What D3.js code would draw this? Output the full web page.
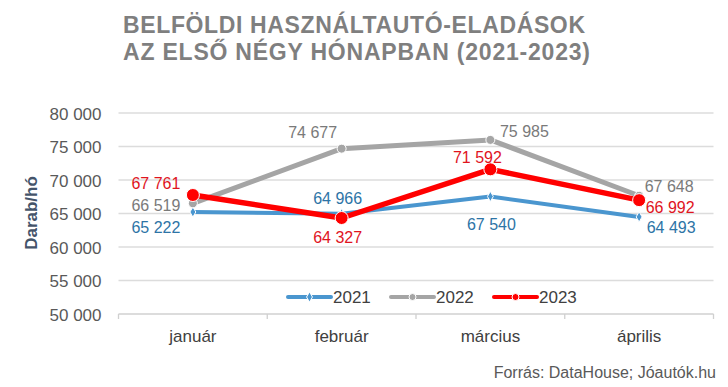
<!DOCTYPE html>
<html>
<head>
<meta charset="utf-8">
<script src="https://cdn.jsdelivr.net/npm/d3@7"></script>
<style>
  body { margin: 0; background: #fff; }
  text { font-family: "Liberation Sans", Arial, sans-serif; }
</style>
</head>
<body>
<div id="chart"></div>
<script>
  ///
  /// Data
  ///
  var months = ["január", "február", "március", "április"];
  var years = ["2021", "2022", "2023"];
  var sales2021 = [65222, 64966, 67540, 64493];
  var sales2022 = [66519, 74677, 75985, 67648];
  var sales2023 = [67761, 64327, 71592, 66992];
  var yTicks = [50000, 55000, 60000, 65000, 70000, 75000, 80000];

  // label offsets per point (dx, dy from the marker)
  var labelPos2021 = [[-37, 15], [-4, -15], [1, 28], [32, 11]];
  var labelPos2022 = [[-37, 2], [-29, -16], [34, -9], [30, -9]];
  var labelPos2023 = [[-37, -12], [-4, 19], [-13, -12], [31, 7]];

  var width = 728, height = 387;
  var margin = {left: 118.5, right: 14.5, top: 113, bottom: 73};

  var svg = d3.select("#chart").append("svg")
    .attr("width", width)
    .attr("height", height);

  var x = d3.scaleBand()
    .domain(months)
    .range([margin.left, width - margin.right]);

  var y = d3.scaleLinear()
    .domain([50000, 80000])
    .range([height - margin.bottom, margin.top]);

  var fmt = v => d3.format(",")(v).replace(/,/g, " ");

  ///
  /// Title
  ///
  svg.append("text")
    .attr("x", 354).attr("y", 33)
    .attr("text-anchor", "middle")
    .attr("fill", "#7f7f7f")
    .attr("textLength", 462).attr("lengthAdjust", "spacing")
    .style("font-weight", "bold")
    .style("font-size", "23px")
    .text("BELFÖLDI HASZNÁLTAUTÓ-ELADÁSOK");
  svg.append("text")
    .attr("x", 356.5).attr("y", 60)
    .attr("text-anchor", "middle")
    .attr("fill", "#7f7f7f")
    .attr("textLength", 467).attr("lengthAdjust", "spacing")
    .style("font-weight", "bold")
    .style("font-size", "23px")
    .text("AZ ELSŐ NÉGY HÓNAPBAN (2021-2023)");

  ///
  /// Grid + axes
  ///
  svg.append("g")
    .selectAll("line")
    .data(yTicks)
    .join("line")
    .attr("x1", margin.left).attr("x2", width - margin.right)
    .attr("y1", d => y(d)).attr("y2", d => y(d))
    .attr("stroke", d => d == 50000 ? "#d0d0d0" : "#dcdcdc")
    .attr("stroke-width", 1.3);

  var yAxis = svg.append("g")
    .attr("transform", "translate(" + (margin.left - 14) + ",0)")
    .call(d3.axisLeft(y).tickValues(yTicks).tickFormat(fmt).tickSize(0));
  yAxis.select(".domain").remove();
  yAxis.selectAll("text")
    .attr("fill", "#595959")
    .style("font-size", "17px")
    .attr("dy", "0.36em");

  // category boundary ticks
  var bounds = months.map(m => x(m)).concat([width - margin.right]);
  svg.append("g")
    .selectAll("line")
    .data(bounds)
    .join("line")
    .attr("x1", d => d).attr("x2", d => d)
    .attr("y1", y(50000)).attr("y2", y(50000) + 5)
    .attr("stroke", "#d0d0d0")
    .attr("stroke-width", 1.3);

  var xAxis = svg.append("g")
    .attr("transform", "translate(0," + (y(50000) + 5) + ")")
    .call(d3.axisBottom(x).tickSize(0));
  xAxis.select(".domain").remove();
  xAxis.selectAll("text")
    .attr("fill", "#404040")
    .style("font-size", "17px")
    .attr("dy", "1.15em");

  svg.append("text")
    .attr("transform", "translate(37," + 213 + ") rotate(-90)")
    .attr("text-anchor", "middle")
    .attr("fill", "#44546a")
    .style("font-weight", "bold")
    .style("font-size", "17px")
    .text("Darab/hó");

  ///
  /// Series
  ///
  var series = [
    {name: "2021", values: sales2021, color: "#4a96cf", text: "#2d74a6", width: 4, marker: "diamond", r: 3, lab: labelPos2021},
    {name: "2022", values: sales2022, color: "#a5a5a5", text: "#7a7a7a", width: 5, marker: "circle", r: 4.5, lab: labelPos2022},
    {name: "2023", values: sales2023, color: "#ff0000", text: "#e0141e", width: 5.5, marker: "circle", r: 6.5, lab: labelPos2023}
  ];

  var cx = m => x(m) + x.bandwidth() / 2;
  var line = d3.line().x(d => cx(d.m)).y(d => y(d.v));

  function drawMarker(g, s, px, py, r) {
    if (s.marker == "diamond") {
      g.append("path")
        .attr("d", d3.symbol(d3.symbolDiamond, 30)())
        .attr("transform", "translate(" + px + "," + py + ")")
        .attr("fill", s.color)
        .attr("stroke", "#fff").attr("stroke-width", 1);
    } else {
      g.append("circle")
        .attr("cx", px).attr("cy", py).attr("r", r || s.r)
        .attr("fill", s.color)
        .attr("stroke", "#fff").attr("stroke-width", 1);
    }
  }

  series.forEach(s => {
    var pts = months.map((m, i) => ({m: m, v: s.values[i]}));
    var g = svg.append("g");
    g.append("path")
      .datum(pts)
      .attr("d", line)
      .attr("fill", "none")
      .attr("stroke", s.color)
      .attr("stroke-width", s.width)
      .attr("stroke-linejoin", "round");
    pts.forEach(p => drawMarker(g, s, cx(p.m), y(p.v)));
  });

  // data labels on top
  series.forEach(s => {
    var g = svg.append("g");
    months.forEach((m, i) => {
      g.append("text")
        .attr("x", cx(m) + s.lab[i][0])
        .attr("y", y(s.values[i]) + s.lab[i][1])
        .attr("text-anchor", "middle")
        .attr("dy", "0.35em")
        .attr("fill", s.text)
        .style("font-size", "16px")
        .text(fmt(s.values[i]));
    });
  });

  ///
  /// Legend
  ///
  var legX = [288, 391, 494];
  series.forEach((s, i) => {
    var g = svg.append("g").attr("transform", "translate(" + legX[i] + ",297)");
    g.append("line")
      .attr("x1", 0).attr("x2", 43)
      .attr("stroke", s.color).attr("stroke-width", 4)
      .attr("stroke-linecap", "round");
    drawMarker(g, s, 21.5, 0, 3.5);
    g.append("text")
      .attr("x", 45).attr("dy", "0.36em")
      .attr("fill", "#404040")
      .style("font-size", "17px")
      .text(s.name);
  });

  svg.append("text")
    .attr("x", 716).attr("y", 378)
    .attr("text-anchor", "end")
    .attr("fill", "#595959")
    .style("font-size", "16px")
    .text("Forrás: DataHouse; Jóautók.hu");
</script>
</body>
</html>
